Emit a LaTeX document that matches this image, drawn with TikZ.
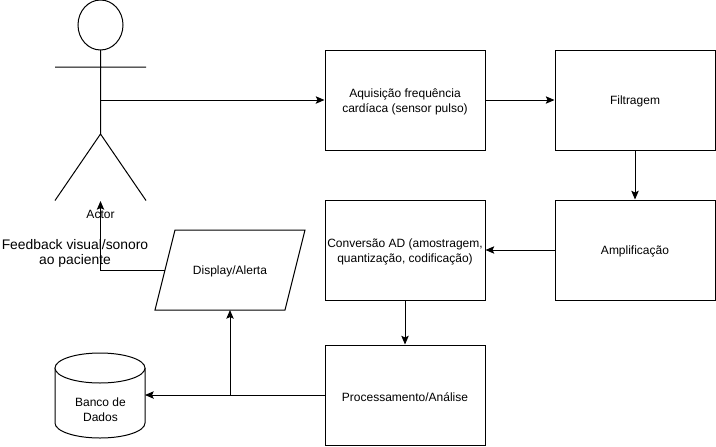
\documentclass[tikz,border=0pt]{standalone}
\usepackage{fontspec}
\setmainfont{Liberation Sans}
\usetikzlibrary{arrows.meta,shapes.geometric}
\newcommand{\lowtxt}[1]{\raisebox{-1.3pt}[\height][\depth]{#1}}
\newcommand{\twolines}[2]{\lowtxt{\begin{tabular}{@{}c@{}}#1\\#2\end{tabular}}}
\tikzset{
 x=0.75pt,y=-0.75pt,
 box/.style={draw=black,fill=white,line width=0.75pt,minimum width=120pt,minimum height=75pt,inner sep=0pt,align=center,font=\fontsize{9}{11.25}\selectfont,text=black},
 conn/.style={draw=black,line width=0.75pt,-{Stealth[length=6.5pt,width=5.5pt,inset=1.2pt]}},
 lbl/.style={inner sep=0pt,align=center,text=black,font=\fontsize{9}{11.25}\selectfont},
 shp/.style={draw=black,line width=0.75pt,fill=white}
}
\begin{document}
\begin{tikzpicture}
\useasboundingbox[fill=white] (0,0) rectangle (716,446);
\node[box] (a) at (405,100) {\twolines{Aquisição frequência}{cardíaca (sensor pulso)}};
\node[box] (f) at (635,100) {\lowtxt{Filtragem}};
\node[box] (m) at (635,250) {\lowtxt{Amplificação}};
\node[box] (c) at (405,250) {\twolines{Conversão AD (amostragem,}{quantização, codificação)}};
\node[box] (p) at (405,395) {\lowtxt{Processamento/Análise}};
\draw[shp] (175,230) -- (305,230) -- (285,310) -- (155,310) -- cycle;
\coordinate (dL) at (165,270);
\coordinate (dB) at (230,310);
\node[lbl] (d) at (230,271) {Display/Alerta};
% database
\draw[shp] (55,368) -- (55,423) arc[start angle=180,end angle=360,x radius=45,y radius=-15] -- (145,368);
\draw[shp] (100,368) ellipse[x radius=45,y radius=15];
\coordinate (dbR) at (145,395);
\node[lbl] (db) at (100.5,409.5) {Banco de\\Dados};
% actor
\draw[shp] (100.5,25) ellipse[x radius=22.5,y radius=25];
\coordinate (ah) at (100.5,50);
\coordinate (ab) at (100.5,134);
\draw[line width=0.75pt] (ah) -- (ab) (55,67) -- (146,67) (55,200.5) -- (ab) -- (146,200.5);
\coordinate (at) at (100.5,100);
\coordinate (af) at (100.5,201);
\node[lbl] (an) at (100.5,214) {Actor};
\coordinate (j) at (230,395);
\coordinate (k) at (100.5,270);
\draw[conn] (at) -- (a);
\draw[conn] (a) -- (f);
\draw[conn] (f) -- (m);
\draw[conn] (m) -- (c);
\draw[conn] (c) -- (p);
\draw[conn] (p) -- (dbR);
\draw[conn] (j) -- (dB);
\draw[conn] (dL) -- (k) -- (af);
\node[lbl,font=\fontsize{10.4}{11.25}\selectfont] (t) at (75,253) {Feedback visual/sonoro\\ao paciente};
\end{tikzpicture}
\end{document}
